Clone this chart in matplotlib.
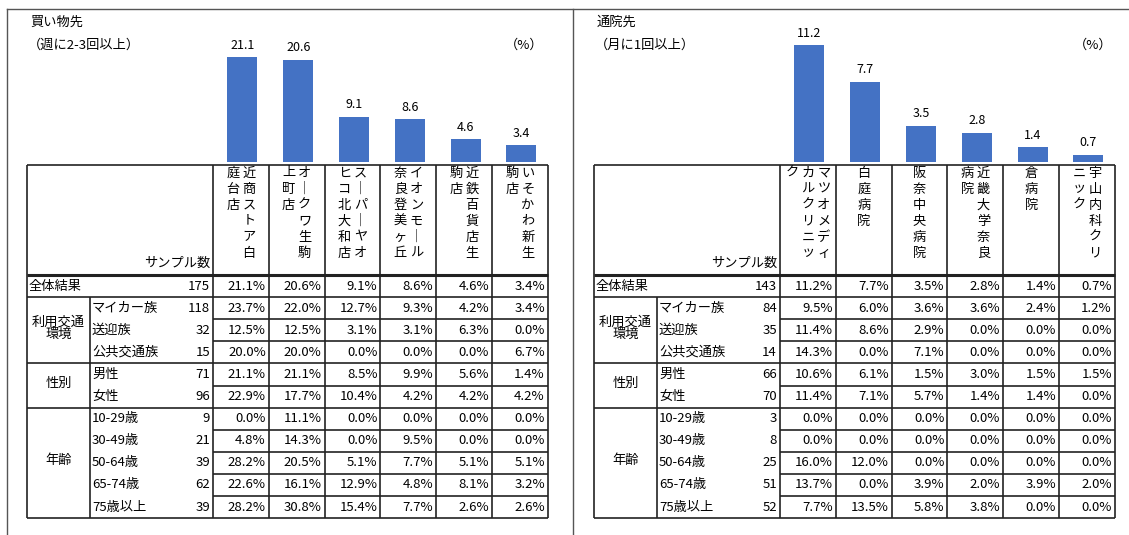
import matplotlib
matplotlib.use("Agg")
import matplotlib.pyplot as plt

plt.rcParams['font.family'] = ['Noto Sans CJK JP', 'DejaVu Sans']

W, H = 1129, 535

# row structure (shared by both panels)
groups = ["全体結果", "利用交通\n環境", "性別", "年齢"]
group_sizes = [1, 3, 2, 5]
row_labels = ["", "マイカー族", "送迎族", "公共交通族", "男性", "女性",
              "10-29歳", "30-49歳", "50-64歳", "65-74歳", "75歳以上"]

# left panel: shopping
shop_names = ["近商ストア白庭台店", "オークワ生駒上町店", "スーパーヤオヒコ北大和店",
              "イオンモール奈良登美ヶ丘", "近鉄百貨店生駒店", "いそかわ新生駒店"]
shop_counts = [175, 118, 32, 15, 71, 96, 9, 21, 39, 62, 39]
shop_values = [
    [21.1, 20.6, 9.1, 8.6, 4.6, 3.4],
    [23.7, 22.0, 12.7, 9.3, 4.2, 3.4],
    [12.5, 12.5, 3.1, 3.1, 6.3, 0.0],
    [20.0, 20.0, 0.0, 0.0, 0.0, 6.7],
    [21.1, 21.1, 8.5, 9.9, 5.6, 1.4],
    [22.9, 17.7, 10.4, 4.2, 4.2, 4.2],
    [0.0, 11.1, 0.0, 0.0, 0.0, 0.0],
    [4.8, 14.3, 0.0, 9.5, 0.0, 0.0],
    [28.2, 20.5, 5.1, 7.7, 5.1, 5.1],
    [22.6, 16.1, 12.9, 4.8, 8.1, 3.2],
    [28.2, 30.8, 15.4, 7.7, 2.6, 2.6],
]

# right panel: hospitals
hosp_names = ["マツオメディカルクリニック", "白庭病院", "阪奈中央病院",
              "近畿大学奈良病院", "倉病院", "宇山内科クリニック"]
hosp_counts = [143, 84, 35, 14, 66, 70, 3, 8, 25, 51, 52]
hosp_values = [
    [11.2, 7.7, 3.5, 2.8, 1.4, 0.7],
    [9.5, 6.0, 3.6, 3.6, 2.4, 1.2],
    [11.4, 8.6, 2.9, 0.0, 0.0, 0.0],
    [14.3, 0.0, 7.1, 0.0, 0.0, 0.0],
    [10.6, 6.1, 1.5, 3.0, 1.5, 1.5],
    [11.4, 7.1, 5.7, 1.4, 1.4, 0.0],
    [0.0, 0.0, 0.0, 0.0, 0.0, 0.0],
    [0.0, 0.0, 0.0, 0.0, 0.0, 0.0],
    [16.0, 12.0, 0.0, 0.0, 0.0, 0.0],
    [13.7, 0.0, 3.9, 2.0, 3.9, 2.0],
    [7.7, 13.5, 5.8, 3.8, 0.0, 0.0],
]

BAR = "#4472C4"
LINE = "#222222"
FS = 9.5

fig = plt.figure(figsize=(W / 100, H / 100), dpi=100)
ax = fig.add_axes([0, 0, 1, 1])
ax.set_xlim(0, W)
ax.set_ylim(H, 0)
ax.axis("off")

# panel frames
ax.plot([7, W], [9, 9], color="#555555", lw=1)
ax.plot([7, 7], [9, H], color="#555555", lw=1)
ax.plot([573, 573], [9, H], color="#555555", lw=1)

CW = 55.8
HEAD_TOP = 165
HEAD_BOT = 275
RH = 22.1
BAR_TOP = 30
BAR_BOT = 162


def hline(x0, x1, y, lw=1.2):
    ax.plot([x0, x1], [y, y], color=LINE, lw=lw, solid_capstyle="butt")


def vline(x, y0, y1, lw=1.2):
    ax.plot([x, x], [y0, y1], color=LINE, lw=lw, solid_capstyle="butt")


def draw_panel(xt, xg, xd, title, sub, names, counts, values, px_per_unit, pct_x):
    xr = xd + 6 * CW
    ybot = HEAD_BOT + RH * len(counts)

    ax.text(xt + 3, 22, title, fontsize=FS, va="center", ha="left")
    ax.text(xt + 1, 45, sub, fontsize=FS, va="center", ha="left")
    ax.text(pct_x, 45, "（%）", fontsize=FS, va="center", ha="center")

    # bars through their own axes
    bax = fig.add_axes([(xd + 1.5) / W, 1 - BAR_BOT / H, 6 * CW / W,
                        (BAR_BOT - BAR_TOP) / H])
    bax.set_xlim(0, 6)
    bax.set_ylim(0, (BAR_BOT - BAR_TOP) / px_per_unit)
    bax.axis("off")
    xs = [i + 0.5 for i in range(6)]
    bax.bar(xs, values[0], width=0.54, color=BAR)
    for x, v in zip(xs, values[0]):
        bax.annotate(f"{v:.1f}", (x, v), xytext=(0, 4), textcoords="offset points",
                     ha="center", va="bottom", fontsize=FS - 0.5)

    # header
    hline(xt, xr, HEAD_TOP)
    hline(xt, xr, HEAD_BOT, lw=2.2)
    ax.text(xd - 3, HEAD_BOT - 12, "サンプル数", fontsize=FS, ha="right", va="center")
    for j, name in enumerate(names):
        name = name.replace("ー", "｜")
        cols = [name[k:k + 6] for k in range(0, len(name), 6)]
        cx = xd + (j + 0.5) * CW
        n = len(cols)
        for c, chunk in enumerate(cols):
            x = cx + ((n - 1) / 2 - c) * 16
            for r, ch in enumerate(chunk):
                ax.text(x, 173 + r * 16, ch, fontsize=FS, ha="center", va="center")

    # vertical lines
    vline(xt, HEAD_TOP, ybot)
    for j in range(7):
        vline(xd + j * CW, HEAD_TOP, ybot)
    vline(xg, HEAD_BOT + RH, ybot)

    # rows
    r0 = 0
    for g, size in zip(groups, group_sizes):
        gy0 = HEAD_BOT + r0 * RH
        gy1 = gy0 + size * RH
        hline(xt, xr, gy1)
        if size == 1:
            ax.text(xt + 2, gy0 + RH / 2, g, fontsize=FS, ha="left", va="center")
        else:
            ax.text((xt + xg) / 2, (gy0 + gy1) / 2 - 2, g, fontsize=FS,
                    ha="center", va="center", linespacing=0.95)
        for k in range(r0, r0 + size):
            y0 = HEAD_BOT + k * RH
            yc = y0 + RH / 2
            if k > r0:
                hline(xd, xr, y0)
            if row_labels[k]:
                ax.text(xg + 2, yc, row_labels[k], fontsize=FS, ha="left", va="center")
            ax.text(xd - 3, yc, str(counts[k]), fontsize=FS, ha="right", va="center")
            for j, v in enumerate(values[k]):
                ax.text(xd + (j + 1) * CW - 3, yc, f"{v:.1f}%", fontsize=FS,
                        ha="right", va="center")
        r0 += size


draw_panel(27, 90, 213, "買い物先", "（週に2-3回以上）", shop_names, shop_counts,
           shop_values, 4.97, 524)
draw_panel(594, 657, 780, "通院先", "（月に1回以上）", hosp_names, hosp_counts,
           hosp_values, 10.42, 1093)

fig.savefig("out.png", dpi=100)
